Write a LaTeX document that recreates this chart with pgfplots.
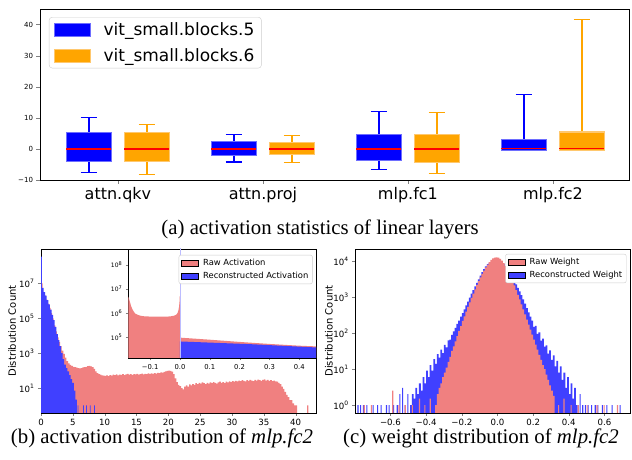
\documentclass[border=0pt]{standalone}
\usepackage{fontspec}
\setmainfont{Liberation Serif}
\newfontfamily\dv{DejaVu Sans}
\usepackage{pgfplots}
\pgfplotsset{compat=1.18}
\usepgfplotslibrary{statistics}

\definecolor{coral}{RGB}{240,128,128}
\definecolor{rblue}{RGB}{64,64,255}
\definecolor{orng}{RGB}{255,165,0}
\definecolor{bedge}{RGB}{110,110,255}
\definecolor{oedge}{RGB}{255,200,110}

\pgfplotsset{
  bbox/.style={forget plot, draw=blue, line width=1.2pt, fill=blue,
    boxplot/draw direction=y,
    boxplot/every box/.style={draw=bedge, fill=blue},
    boxplot/every median/.style={draw=red, line width=1.2pt},
    boxplot/box extend=0.31, boxplot/whisker extend=0.11},
  obox/.style={forget plot, draw=orng, line width=1.2pt, fill=orng,
    boxplot/draw direction=y,
    boxplot/every box/.style={draw=oedge, fill=orng},
    boxplot/every median/.style={draw=red, line width=1.2pt},
    boxplot/box extend=0.31, boxplot/whisker extend=0.11},
  hist/.style={forget plot, const plot, draw=none, fill=#1},
  small/.style={
    scale only axis, anchor=south west,
    tick align=outside, tick pos=left, major tick length=3pt,
    axis line style={line width=0.8pt}, yminorticks=false,
    tick label style={font=\dv\fontsize{8.6}{10}\selectfont},
    legend cell align=left,
    legend image code/.code={\draw[sharp corners,##1] (0pt,-3pt) rectangle (17pt,3pt); \path (20pt,0pt);},
    legend style={draw=black!20, rounded corners=2pt, fill=white,
      font=\dv\fontsize{8.4}{10}\selectfont, inner sep=2pt, row sep=1pt},
  },
}

\begin{document}
\begin{tikzpicture}[x=1pt,y=1pt]
\useasboundingbox (0,0) rectangle (632,460);

% ---------------- (a) box plots
\begin{axis}[
  at={(40.5pt,280pt)}, anchor=south west, scale only axis,
  width=589pt, height=171pt,
  xmin=-0.534, xmax=3.528, ymin=-10, ymax=45,
  xtick={0,1,2,3}, xticklabels={attn.qkv,attn.proj,mlp.fc1,mlp.fc2},
  ytick={-10,0,10,20,30,40}, yticklabels={−10,0,10,20,30,40},
  x tick label style={font=\dv\fontsize{16}{18}\selectfont},
  y tick label style={font=\dv\fontsize{7}{8}\selectfont},
  tick align=outside, tick pos=left, major tick length=4pt,
  axis line style={line width=0.9pt},
  legend cell align=left,
  legend image code/.code={\draw[sharp corners,#1] (0pt,-6.5pt) rectangle (36pt,6.5pt); \path (47pt,0pt);},
  legend style={at={(0.0144,0.953)}, anchor=north west, draw=black!20,
    rounded corners=3pt, font=\dv\fontsize{17}{20}\selectfont,
    inner xsep=5pt, inner ysep=3pt, row sep=8pt},
]
\addlegendimage{fill=blue, draw=bedge}
\addlegendentry{vit\_small.blocks.5}
\addlegendimage{fill=orng, draw=oedge}
\addlegendentry{vit\_small.blocks.6}

\addplot[bbox, boxplot prepared={draw position=-0.2, lower whisker=-7.5,
  lower quartile=-4.0, median=0, upper quartile=5.2, upper whisker=10.0}] coordinates {};
\addplot[obox, boxplot prepared={draw position=0.2, lower whisker=-8.2,
  lower quartile=-4.0, median=0, upper quartile=5.2, upper whisker=7.8}] coordinates {};
\addplot[bbox, boxplot prepared={draw position=0.8, lower whisker=-4.2,
  lower quartile=-2.0, median=0, upper quartile=2.35, upper whisker=4.6}] coordinates {};
\addplot[obox, boxplot prepared={draw position=1.2, lower whisker=-4.5,
  lower quartile=-1.9, median=0, upper quartile=2.1, upper whisker=4.2}] coordinates {};
\addplot[bbox, boxplot prepared={draw position=1.8, lower whisker=-6.6,
  lower quartile=-3.75, median=0, upper quartile=4.6, upper whisker=12.0}] coordinates {};
\addplot[obox, boxplot prepared={draw position=2.2, lower whisker=-7.9,
  lower quartile=-4.3, median=0, upper quartile=4.7, upper whisker=11.7}] coordinates {};
\addplot[bbox, boxplot prepared={draw position=2.8, lower whisker=-0.4,
  lower quartile=-0.4, median=0.2, upper quartile=3.0, upper whisker=17.6}] coordinates {};
\addplot[obox, boxplot prepared={draw position=3.2, lower whisker=-0.4,
  lower quartile=-0.4, median=0.2, upper quartile=5.45, upper whisker=41.6}] coordinates {};
\end{axis}

% ---------------- (b) activation histogram
\begin{axis}[small,
  at={(41pt,47pt)}, width=275pt, height=164pt,
  xmin=0, xmax=43.2, ymode=log, ymin=0.37, ymax=9.5e8,
  xtick={0,5,10,15,20,25,30,35,40},
  xticklabels={0,5,10,15,20,25,30,35,40},
  ytick={10,1000,1e5,1e7},
  yticklabels={10\textsuperscript{1},10\textsuperscript{3},10\textsuperscript{5},10\textsuperscript{7}},
  ylabel={Distribution Count},
  ylabel style={font=\dv\fontsize{10}{12}\selectfont, at={(axis description cs:-0.105,0.5)}, anchor=center},
]
% raw activation
\addplot[hist=coral] coordinates {
(0,0.01) (0,1e7) (0.25,3e6) (0.5,2e6) (0.75,1.2e6) (1,7e5) (1.25,4e5) (1.5,2e5) (1.75,1e5)
(2,4e4) (2.25,1.8e4) (2.5,8e3) (2.75,4.5e3) (3,2.5e3) (3.25,1.4e3) (3.5,900) (3.75,560)
(4,355) (4.25,263) (4.5,214) (4.75,186) (5,166) (5.25,158) (5.5,148) (5.75,141)
(6,135) (6.25,141) (6.5,151) (6.75,158) (7,166) (7.25,178) (7.5,186) (7.75,174)
(8,158) (8.25,126) (8.5,89) (8.75,71) (9,63) (9.25,59) (9.5,54) (9.75,52)
(10,50) (10.25,54) (10.5,49) (10.75,56) (11,52) (11.25,58) (11.5,55) (11.75,60)
(12,53) (12.25,59) (12.5,57) (12.75,62) (13,55) (13.25,60) (13.5,64) (13.75,58)
(14,62) (14.25,57) (14.5,63) (14.75,60) (15,66) (15.25,59) (15.5,63) (15.75,68)
(16,61) (16.25,66) (16.5,62) (16.75,69) (17,64) (17.25,70) (17.5,66) (17.75,72)
(18,68) (18.25,75) (18.5,71) (18.75,78) (19,76) (19.25,84) (19.5,90) (19.75,96)
(20,100) (20.25,98) (20.5,88) (20.75,62) (21,36) (21.25,22) (21.5,15) (21.75,13)
(22,10) (22.25,8.5) (22.5,12) (22.75,14) (23,12) (23.25,16) (23.5,14) (23.75,17)
(24,15) (24.25,19) (24.5,17) (24.75,20) (25,18) (25.25,21) (25.5,19) (25.75,17)
(26,20) (26.25,18) (26.5,21) (26.75,19) (27,22) (27.25,20) (27.5,18) (27.75,21)
(28,23) (28.25,20) (28.5,22) (28.75,19) (29,23) (29.25,21) (29.5,24) (29.75,22)
(30,25) (30.25,23) (30.5,26) (30.75,24) (31,27) (31.25,25) (31.5,28) (31.75,26)
(32,24) (32.25,28) (32.5,26) (32.75,29) (33,27) (33.25,25) (33.5,29) (33.75,27)
(34,30) (34.25,28) (34.5,26) (34.75,29) (35,31) (35.25,27) (35.5,29) (35.75,26)
(36,28) (36.25,25) (36.5,27) (36.75,24) (37,23) (37.25,20) (37.5,17) (37.75,12)
(38,9) (38.25,6) (38.5,4) (38.75,3) (39,2) (39.25,2) (39.5,1.3) (39.75,1) (40,1)
(40.25,0.01) (41.8,1) (42.0,0.01)
};
% reconstructed activation
\addplot[hist=rblue] coordinates {
(0,0.01) (0,3.5e8) (0.15,5.6e6) (0.4,3.2e6) (0.65,2e6) (0.9,1.1e6) (1.15,6.3e5)
(1.4,3.2e5) (1.65,1.6e5) (1.9,7.9e4) (2.15,3.2e4) (2.4,1.26e4) (2.65,5.6e3)
(2.9,2.5e3) (3.15,1e3) (3.4,450) (3.65,220) (3.9,140) (4.15,90) (4.4,56)
(4.65,32) (4.9,20) (5.15,7) (5.4,2.2) (5.65,0.01)
(5.77,1) (5.89,0.01) (6.6,1) (6.72,0.01) (7.08,1) (7.2,0.01) (7.66,1) (7.78,0.01)
(8.34,1) (8.46,0.01)
};
\end{axis}

% inset
\begin{axis}[small,
  at={(128.3pt,102pt)}, width=187.7pt, height=109pt,
  axis background/.style={fill=white},
  xmin=-0.173, xmax=0.456, ymode=log, ymin=1.36e4, ymax=4.5e8,
  major tick length=2.5pt,
  xtick={-0.1,0,0.1,0.2,0.3,0.4},
  xticklabels={−0.1,0.0,0.1,0.2,0.3,0.4},
  ytick={1e5,1e6,1e7,1e8},
  yticklabels={10\textsuperscript{5},10\textsuperscript{6},10\textsuperscript{7},10\textsuperscript{8}},
  x tick label style={font=\dv\fontsize{6.8}{8}\selectfont},
  y tick label style={font=\dv\fontsize{6}{7}\selectfont},
  legend style={at={(0.982,0.946)}, anchor=north east},
]
\addlegendimage{fill=coral, draw=none}
\addlegendentry{Raw Activation}
\addlegendimage{fill=rblue, draw=none}
\addlegendentry{Reconstructed Activation}
\addplot[forget plot, draw=none, fill=coral] coordinates {
(-0.18,1) (-0.18,7e6) (-0.172,4.5e6) (-0.168,3e6) (-0.164,2e6) (-0.16,1.5e6)
(-0.155,1.15e6) (-0.15,9.5e5) (-0.14,8.2e5) (-0.13,7.6e5) (-0.12,7.3e5)
(-0.10,7.1e5) (-0.08,7.0e5) (-0.06,7.0e5) (-0.04,7.1e5) (-0.03,7.3e5)
(-0.02,7.7e5) (-0.012,8.5e5) (-0.008,1e6) (-0.005,1.3e6) (-0.003,1.8e6)
(-0.0015,2.8e6) (-0.0005,5e6) (0,9.5e4) (0.1,7.8e4) (0.2,6.3e4) (0.3,5.2e4)
(0.4,4.4e4) (0.46,4.1e4) (0.46,1)
};
\addplot[forget plot, draw=none, fill=rblue] coordinates {
(0,1) (0,6.6e4) (0.235,5.1e4) (0.46,3.7e4) (0.46,1)
};
\addplot[forget plot, draw=rblue!35, line width=0.6pt] coordinates {(0,1e4) (0,1e9)};
\end{axis}

% ---------------- (c) weight histogram
\begin{axis}[small,
  at={(355.3pt,47pt)}, width=274.7pt, height=164pt,
  xmin=-0.797, xmax=0.743, ymode=log, ymin=0.6, ymax=2.2e4,
  xtick={-0.6,-0.4,-0.2,0,0.2,0.4,0.6},
  xticklabels={−0.6,−0.4,−0.2,0.0,0.2,0.4,0.6},
  ytick={1,10,100,1000,1e4},
  yticklabels={10\textsuperscript{0},10\textsuperscript{1},10\textsuperscript{2},10\textsuperscript{3},10\textsuperscript{4}},
  ylabel={Distribution Count},
  ylabel style={font=\dv\fontsize{10}{12}\selectfont, at={(axis description cs:-0.096,0.5)}, anchor=center},
  legend style={at={(0.987,0.97)}, anchor=north east},
]
\addlegendimage{fill=coral, draw=none}
\addlegendentry{Raw Weight}
\addlegendimage{fill=rblue, draw=none}
\addlegendentry{Reconstructed Weight}
% reconstructed weight
\addplot[hist=rblue] coordinates {
(-0.49,0.01) (-0.49,1) (-0.48,2) (-0.47,1.5) (-0.46,3) (-0.45,2) (-0.44,4) (-0.43,2.5)
(-0.42,6) (-0.41,4) (-0.40,9) (-0.39,6) (-0.38,13) (-0.37,9) (-0.36,19) (-0.35,14)
(-0.34,26) (-0.33,21) (-0.32,35) (-0.31,28) (-0.30,47) (-0.29,40) (-0.28,63) (-0.27,66)
(-0.26,90) (-0.25,112) (-0.24,140) (-0.23,180) (-0.22,225) (-0.21,290) (-0.20,360)
(-0.19,460) (-0.18,590) (-0.17,760) (-0.16,980) (-0.15,1260) (-0.14,1580) (-0.13,2000)
(-0.12,2510) (-0.11,3160) (-0.10,3980) (-0.09,5010) (-0.08,6030) (-0.07,7240)
(-0.06,8300) (-0.05,9000) (-0.04,9500) (-0.03,9800) (-0.02,10000) (-0.01,10000)
(0.00,9800) (0.01,9500) (0.02,9000) (0.03,8300) (0.04,7400) (0.05,6400) (0.06,5250)
(0.07,4370) (0.08,3550) (0.09,2820) (0.10,2290) (0.11,1820) (0.12,1450) (0.13,1150)
(0.14,870) (0.15,660) (0.16,500) (0.17,380) (0.18,290) (0.19,224) (0.20,150)
(0.21,160) (0.22,95) (0.23,105) (0.24,62) (0.25,70) (0.26,42) (0.27,46) (0.28,27)
(0.29,33) (0.30,18) (0.31,24) (0.32,12) (0.33,17) (0.34,8) (0.35,12) (0.36,5)
(0.37,8) (0.38,3) (0.39,6) (0.40,2) (0.41,4) (0.42,1.5) (0.43,3) (0.44,1) (0.45,0.01)
};
% reconstructed weight, isolated bins
\addplot[hist=rblue] coordinates {
(-0.785,0.01) (-0.785,1) (-0.779,0.01) (-0.77,1) (-0.764,0.01) (-0.755,1) (-0.749,0.01)
(-0.735,1) (-0.729,0.01) (-0.70,1) (-0.694,0.01) (-0.675,1) (-0.669,0.01)
(-0.655,1) (-0.649,0.01) (-0.625,1) (-0.619,0.01) (-0.61,1) (-0.604,0.01)
(-0.585,1) (-0.579,0.01) (-0.565,1) (-0.559,0.01) (-0.55,2) (-0.544,0.01)
(-0.535,3) (-0.529,0.01) (-0.52,1) (-0.514,0.01) (-0.505,2) (-0.499,0.01)
(0.46,2) (0.466,0.01) (0.475,1) (0.481,0.01) (0.49,1) (0.496,0.01) (0.505,1) (0.511,0.01)
(0.525,1) (0.531,0.01) (0.545,1) (0.551,0.01) (0.56,1) (0.566,0.01) (0.585,1) (0.591,0.01)
(0.61,1) (0.616,0.01) (0.64,1) (0.646,0.01) (0.685,1) (0.691,0.01)
};
% raw weight
\addplot[hist=coral] coordinates {
(-0.35,0.01) (-0.35,1) (-0.34,2) (-0.33,3) (-0.32,4) (-0.31,6) (-0.30,8) (-0.29,11)
(-0.28,16) (-0.27,22) (-0.26,32) (-0.25,43) (-0.24,59) (-0.23,83) (-0.22,115)
(-0.21,158) (-0.20,219) (-0.19,295) (-0.18,398) (-0.17,537) (-0.16,724) (-0.15,955)
(-0.14,1260) (-0.13,1660) (-0.12,2190) (-0.11,2820) (-0.10,3550) (-0.09,4470)
(-0.08,5500) (-0.07,6760) (-0.06,8130) (-0.05,9550) (-0.04,10960) (-0.03,12020)
(-0.02,12590) (-0.01,12880) (0.00,12590) (0.01,11750) (0.02,10470) (0.03,8910)
(0.04,7410) (0.05,6030) (0.06,4790) (0.07,3720) (0.08,2820) (0.09,2140) (0.10,1580)
(0.11,1170) (0.12,870) (0.13,630) (0.14,457) (0.15,331) (0.16,240) (0.17,174)
(0.18,126) (0.19,91) (0.20,66) (0.21,48) (0.22,35) (0.23,25) (0.24,18) (0.25,13)
(0.26,10) (0.27,7) (0.28,5) (0.29,3.5) (0.30,2.5) (0.31,1.8) (0.32,0.01)
};
% raw weight, isolated bins
\addplot[hist=coral] coordinates {
(-0.75,0.01) (-0.75,1) (-0.744,0.01) (-0.71,1) (-0.704,0.01) (-0.59,2.5) (-0.584,0.01)
(-0.555,1) (-0.549,0.01) (-0.52,1) (-0.514,0.01) (-0.48,1) (-0.474,0.01)
(-0.44,1.5) (-0.434,0.01) (-0.41,1) (-0.404,0.01) (-0.38,1.5) (-0.374,0.01)
(0.34,1) (0.346,0.01) (0.37,1.5) (0.376,0.01) (0.41,1) (0.416,0.01) (0.45,1) (0.456,0.01)
(0.50,1) (0.506,0.01) (0.555,1) (0.561,0.01) (0.595,1) (0.601,0.01) (0.67,1) (0.676,0.01)
};
\end{axis}

% captions
\node[anchor=base, font=\fontsize{20.8}{24}\selectfont] at (320,225) {(a) activation statistics of linear layers};
\node[anchor=base, font=\fontsize{20.8}{24}\selectfont] at (162,16) {(b) activation distribution of \textit{mlp.fc2}};
\node[anchor=base, font=\fontsize{20.8}{24}\selectfont] at (481,16) {(c) weight distribution of \textit{mlp.fc2}};
\end{tikzpicture}
\end{document}
